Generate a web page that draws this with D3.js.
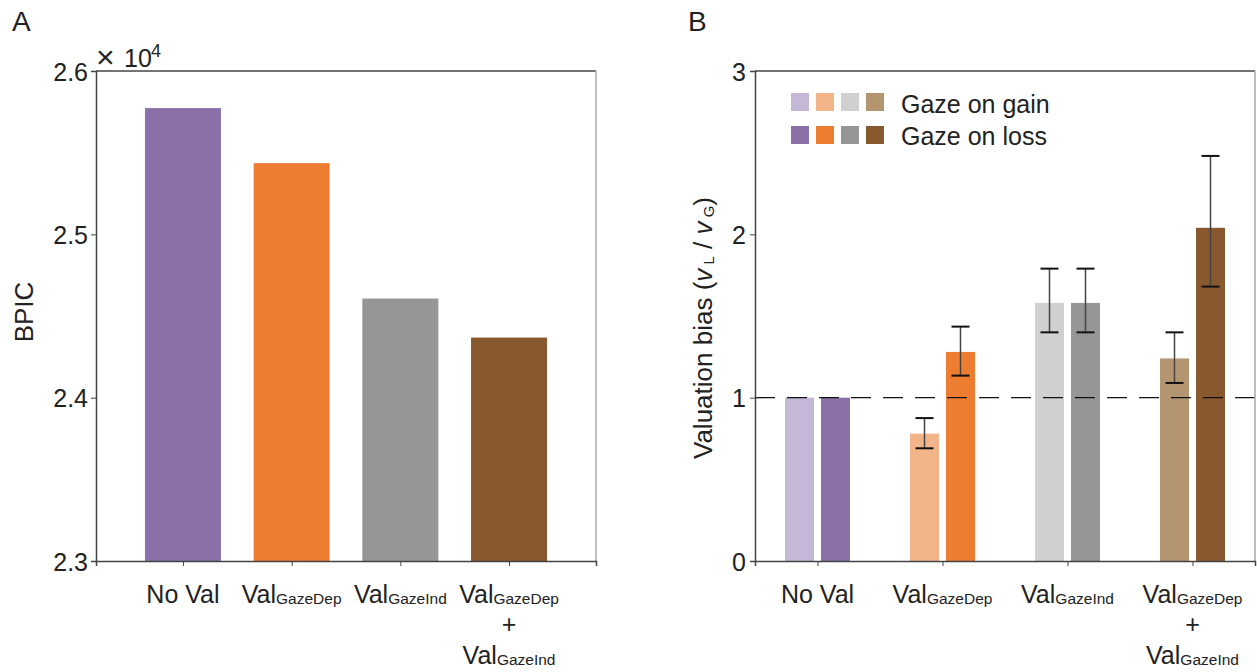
<!DOCTYPE html>
<html>
<head>
<meta charset="utf-8">
<script src="https://cdn.jsdelivr.net/npm/d3@7"></script>
<style>
  body { margin: 0; background: #fff; }
  text { font-family: "Liberation Sans", Arial, sans-serif; fill: #222; }
</style>
</head>
<body>
<svg id="chart" width="1257" height="672"></svg>
<script>
// ---- data ----
var models = ["No Val", "ValGazeDep", "ValGazeInd", "ValGazeDep+ValGazeInd"];
var bpic = [25773, 25436, 24607, 24368];
var modelColors = ["#8a70a8", "#ed7d31", "#969696", "#88592e"];
var lightColors = ["#c5b8d6", "#f4b48a", "#d0d0d0", "#b3956f"];

var biasGain = [1.0, 0.78, 1.58, 1.24];
var biasGainLo = [null, 0.69, 1.40, 1.09];
var biasGainHi = [null, 0.875, 1.79, 1.40];
var biasLoss = [1.0, 1.28, 1.58, 2.04];
var biasLossLo = [null, 1.135, 1.40, 1.68];
var biasLossHi = [null, 1.435, 1.79, 2.48];

var yTicksA = [2.3, 2.4, 2.5, 2.6];
var yTicksB = [0, 1, 2, 3];

var svg = d3.select("#chart");
var fs = 25;

// x label builder: Val + subscript pieces
function catLabel(g, i, x, y) {
  function valSub(yy, sub) {
    var t = g.append("text").attr("x", x).attr("y", yy).attr("text-anchor", "middle").style("font-size", "25px");
    t.append("tspan").text("Val");
    t.append("tspan").attr("dy", 1).style("font-size", "15.5px").text(sub);
  }
  if (i == 0) {
    g.append("text").attr("x", x).attr("y", y).attr("text-anchor", "middle").style("font-size", "25px").text("No Val");
  } else if (i == 1) valSub(y, "GazeDep");
  else if (i == 2) valSub(y, "GazeInd");
  else {
    valSub(y, "GazeDep");
    g.append("text").attr("x", x).attr("y", y + 30).attr("text-anchor", "middle").style("font-size", "25px").text("+");
    valSub(y + 61, "GazeInd");
  }
}

function frame(g, x0, x1, y0, y1) {
  g.append("line").attr("x1", x0).attr("x2", x1).attr("y1", y0).attr("y2", y0).attr("stroke", "#444").attr("stroke-width", 1.5);
  g.append("line").attr("x1", x1).attr("x2", x1).attr("y1", y0).attr("y2", y1).attr("stroke", "#aaa").attr("stroke-width", 1.5);
}

// ================= Panel A =================
var xA = d3.scaleLinear().domain([0.2, 4.8]).range([96, 596]);
var yA = d3.scaleLinear().domain([2.3, 2.6]).range([561, 71]);
var gA = svg.append("g");

gA.selectAll("rect.bar").data(bpic).enter().append("rect")
  .attr("class", "bar")
  .attr("x", function(d, i) { return xA(i + 1) - 38; })
  .attr("width", 76)
  .attr("y", function(d) { return yA(d / 1e4); })
  .attr("height", function(d) { return yA(2.3) - yA(d / 1e4); })
  .attr("fill", function(d, i) { return modelColors[i]; });

frame(gA, 96, 596, 71, 561);

var axA = gA.append("g").attr("transform", "translate(96,0)")
  .call(d3.axisLeft(yA).tickValues(yTicksA).tickFormat(d3.format(".1f")).tickSize(5).tickPadding(3));
axA.selectAll("text").style("font-size", fs + "px").attr("dy", "0.36em");
var axAx = gA.append("g").attr("transform", "translate(0,561)")
  .call(d3.axisBottom(xA).tickValues([1, 2, 3, 4]).tickFormat("").tickSize(5));
[axA, axAx].forEach(function(a) {
  a.select(".domain").attr("stroke", "#444").attr("stroke-width", 1.5);
  a.selectAll("line").attr("stroke", "#444");
});

models.forEach(function(m, i) { catLabel(gA, i, xA(i + 1), 603); });

gA.append("text").attr("transform", "translate(33,312) rotate(-90)").attr("text-anchor", "middle")
  .style("font-size", "26px").text("BPIC");
// × 10^4 multiplier
gA.append("text").attr("x", 96).attr("y", 68).style("font-size", "32px").style("font-weight", 300).text("×");
gA.append("text").attr("x", 124).attr("y", 67).style("font-size", "25px").text("10");
gA.append("text").attr("x", 151).attr("y", 57).style("font-size", "18px").text("4");

svg.append("text").attr("x", 12).attr("y", 31).style("font-size", "28px").text("A");

// ================= Panel B =================
var xB = d3.scaleLinear().domain([0.5, 4.5]).range([755, 1255]);
var yB = d3.scaleLinear().domain([0, 3]).range([561, 71]);
var gB = svg.append("g");
var bw = 29, off = 18;

function bars(vals, cols, dx, cls) {
  gB.selectAll("rect." + cls).data(vals).enter().append("rect")
    .attr("class", cls)
    .attr("x", function(d, i) { return xB(i + 1) + dx - bw / 2; })
    .attr("width", bw)
    .attr("y", function(d) { return yB(d); })
    .attr("height", function(d) { return yB(0) - yB(d); })
    .attr("fill", function(d, i) { return cols[i]; });
}
bars(biasGain, lightColors, -off, "gain");
bars(biasLoss, modelColors, off, "loss");

// dashed reference line at 1, drawn over bars
gB.append("line").attr("x1", 755).attr("x2", 1255).attr("y1", yB(1)).attr("y2", yB(1))
  .attr("stroke", "#111").attr("stroke-width", 1.3).attr("stroke-dasharray", "20,12");

function errs(lo, hi, dx) {
  lo.forEach(function(l, i) {
    if (l == null) return;
    var cx = xB(i + 1) + dx;
    gB.append("line").attr("x1", cx).attr("x2", cx).attr("y1", yB(l)).attr("y2", yB(hi[i]))
      .attr("stroke", "#444").attr("stroke-width", 1.5);
    [l, hi[i]].forEach(function(v) {
      gB.append("line").attr("x1", cx - 9).attr("x2", cx + 9).attr("y1", yB(v)).attr("y2", yB(v))
        .attr("stroke", "#111").attr("stroke-width", 2);
    });
  });
}
errs(biasGainLo, biasGainHi, -off);
errs(biasLossLo, biasLossHi, off);

frame(gB, 755, 1255, 71, 561);

var axB = gB.append("g").attr("transform", "translate(755,0)")
  .call(d3.axisLeft(yB).tickValues(yTicksB).tickFormat(d3.format("d")).tickSize(5).tickPadding(4));
axB.selectAll("text").style("font-size", fs + "px").attr("dy", "0.36em");
var axBx = gB.append("g").attr("transform", "translate(0,561)")
  .call(d3.axisBottom(xB).tickValues([1, 2, 3, 4]).tickFormat("").tickSize(5));
[axB, axBx].forEach(function(a) {
  a.select(".domain").attr("stroke", "#444").attr("stroke-width", 1.5);
  a.selectAll("line").attr("stroke", "#444");
});

models.forEach(function(m, i) { catLabel(gB, i, xB(i + 1), 603); });

var yl = gB.append("text").attr("transform", "translate(712,328) rotate(-90)").attr("text-anchor", "middle")
  .style("font-size", "26px");
yl.append("tspan").text("Valuation bias (");
yl.append("tspan").style("font-style", "italic").text("v");
yl.append("tspan").attr("dy", 2).style("font-size", "15px").text(" L");
yl.append("tspan").attr("dy", -2).text(" / ");
yl.append("tspan").style("font-style", "italic").text("v");
yl.append("tspan").attr("dy", 2).style("font-size", "15px").text(" G");
yl.append("tspan").attr("dy", -2).text(")");

// legend
var legRows = [["Gaze on gain", lightColors], ["Gaze on loss", modelColors]];
legRows.forEach(function(r, j) {
  r[1].forEach(function(c, i) {
    gB.append("rect").attr("x", 791 + 25 * i).attr("y", 93 + 33 * j).attr("width", 18).attr("height", 18).attr("fill", c);
  });
  gB.append("text").attr("x", 901).attr("y", 113 + 32 * j).style("font-size", "25px").text(r[0]);
});

svg.append("text").attr("x", 688).attr("y", 31).style("font-size", "28px").text("B");
</script>
</body>
</html>
